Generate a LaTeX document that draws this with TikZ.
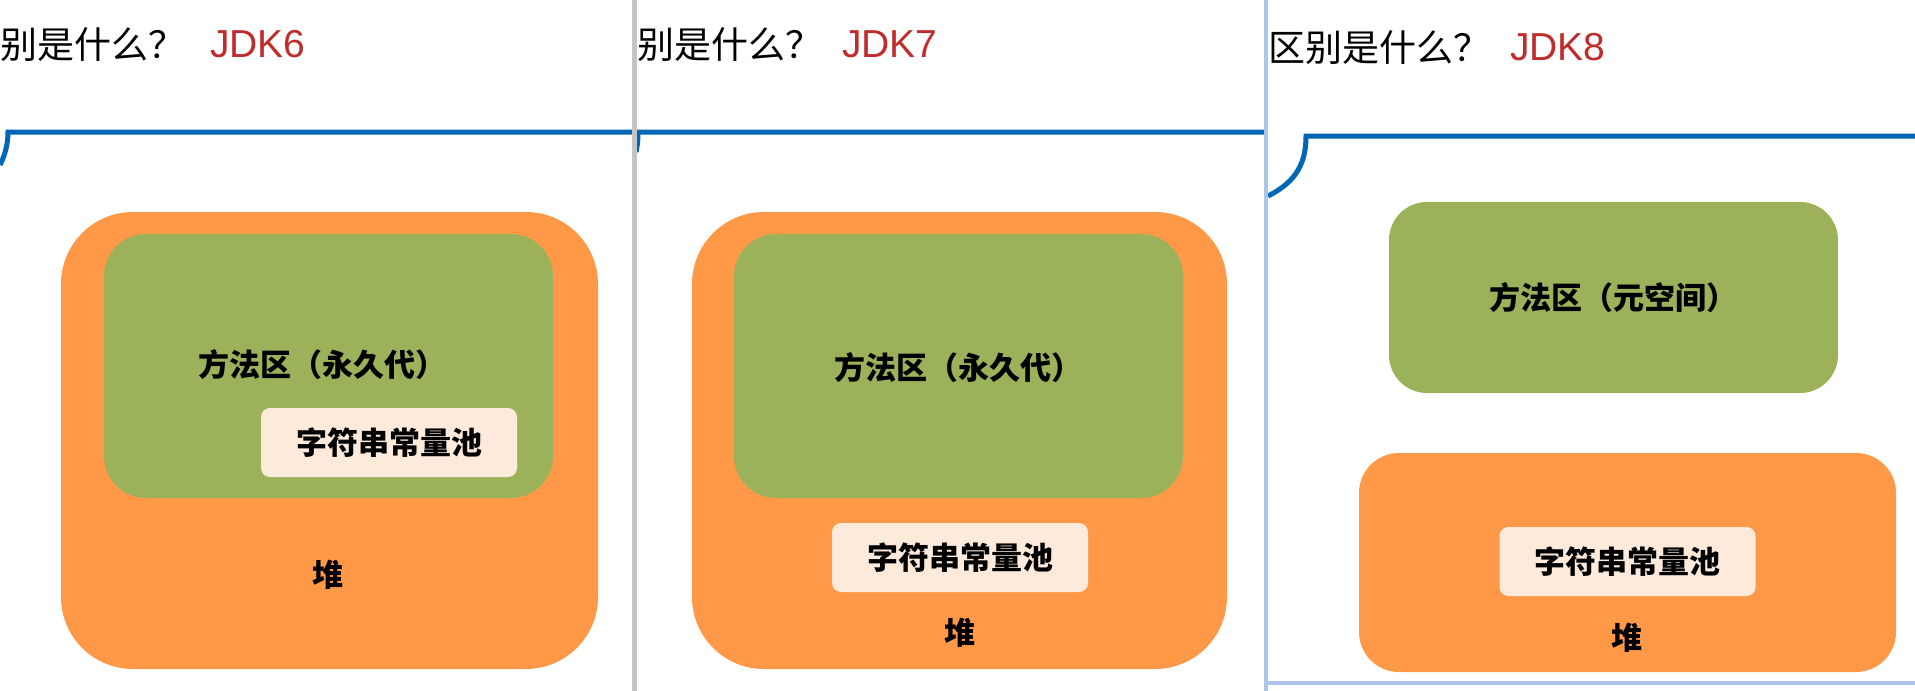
\documentclass[tikz,border=0pt]{standalone}
\usepackage{fontspec}
\newfontfamily\cjk{Noto Sans CJK SC}
\newfontfamily\lat{Liberation Sans}
\definecolor{heap}{RGB}{255,153,71}
\definecolor{meth}{RGB}{155,178,90}
\definecolor{pool}{RGB}{253,234,218}
\definecolor{rulec}{RGB}{0,103,184}
\definecolor{jdk}{RGB}{192,44,44}
\definecolor{sepc}{RGB}{196,196,196}
\definecolor{framec}{RGB}{172,198,234}
\begin{document}
\begin{tikzpicture}[x=1pt,y=-1pt,
  titletext/.style={anchor=base west, inner sep=0pt, font=\cjk\fontsize{37}{40}\selectfont},
  jdktext/.style={anchor=base west, inner sep=0pt, text=jdk, font=\lat\fontsize{39}{40}\selectfont},
  tabline/.style={draw=rulec, line width=5pt},
  heapbox/.style={fill=heap, inner sep=0pt, rounded corners=#1},
  methbox/.style={fill=meth, inner sep=0pt, rounded corners=#1, font=\cjk\bfseries\fontsize{31}{32}\selectfont},
  poolbox/.style={fill=pool, inner sep=0pt, rounded corners=9pt, minimum width=256pt, minimum height=69pt, font=\cjk\bfseries\fontsize{31}{32}\selectfont},
  heaplabel/.style={inner sep=0pt, font=\cjk\bfseries\fontsize{31}{32}\selectfont}
]
\useasboundingbox (0,0) rectangle (1915,691);
\fill[white] (0,0) rectangle (1915,691);

% ---------- panel 1 : JDK6 ----------
\node[titletext] (t1) at (0,58) {别是什么？};
\node[jdktext] (j1) at (210,57) {JDK6};
\draw[tabline] (0,165) .. controls (6,153) and (8,142) .. (8,132) -- (634,132);
\node[heapbox=72pt, minimum width=537pt, minimum height=457pt] (heap1) at (329.5,440.5) {};
\node[methbox=42pt, minimum width=449pt, minimum height=264pt] (meth1) at (328.5,366) {};
\node[heaplabel] (ml1) at (322,365) {方法区（永久代）};
\node[poolbox] (pool1) at (389,442.5) {字符串常量池};
\node[heaplabel] (hl1) at (328,575) {堆};

% ---------- panel 2 : JDK7 ----------
\node[titletext] (t2) at (637,58) {别是什么？};
\node[jdktext] (j2) at (842,57) {JDK7};
\draw[tabline] (636,152) .. controls (638,143) and (638,136) .. (638,132) -- (1265,132);
\node[heapbox=72pt, minimum width=535pt, minimum height=457pt] (heap2) at (959.5,440.5) {};
\node[methbox=42pt, minimum width=449pt, minimum height=264pt, text depth=0pt] (meth2) at (958.5,366) {方法区（永久代）};
\node[poolbox] (pool2) at (960,557.5) {字符串常量池};
\node[heaplabel] (hl2) at (960,633) {堆};

% ---------- panel 3 : JDK8 ----------
\node[titletext] (t3) at (1268,61) {区别是什么？};
\node[jdktext] (j3) at (1510,60) {JDK8};
\draw[tabline] (1268,196) .. controls (1298,181) and (1306,161) .. (1306,136) -- (1915,136);
\node[methbox=38pt, minimum width=449pt, minimum height=191pt] (meth3) at (1613.5,297.5) {方法区（元空间）};
\node[heapbox=40pt, minimum width=537pt, minimum height=219pt] (heap3) at (1627.5,562.5) {};
\node[poolbox] (pool3) at (1627.5,561.5) {字符串常量池};
\node[heaplabel] (hl3) at (1627,638) {堆};

% ---------- screen separators / frame ----------
\fill[sepc] (632,0) rectangle (637,691);
\fill[framec] (1264,0) rectangle (1268,691);
\fill[framec] (1266,681) rectangle (1915,685);
\end{tikzpicture}
\end{document}
